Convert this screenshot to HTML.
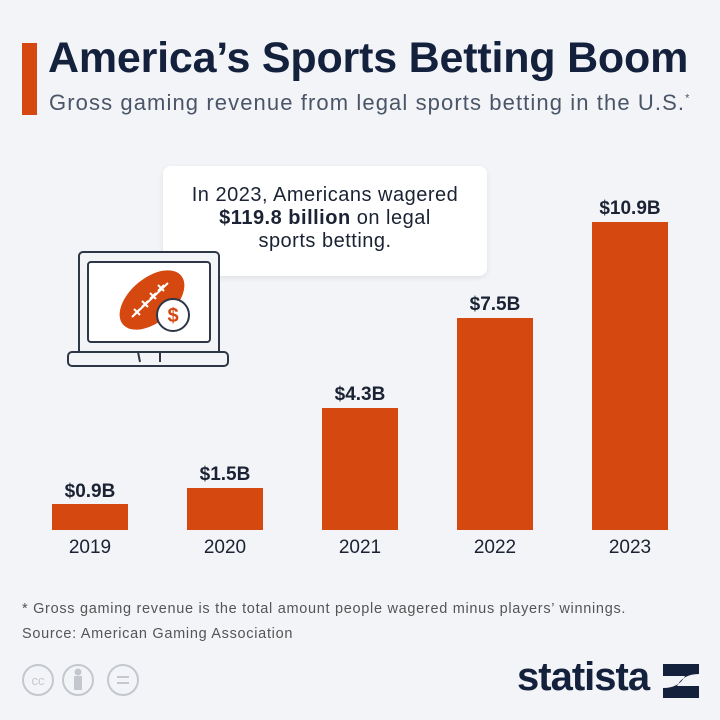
<!DOCTYPE html>
<html><head><style>
body{margin:0;width:720px;height:720px;background:#f2f4f7;font-family:"Liberation Sans",sans-serif;position:relative;overflow:hidden}
.a{position:absolute}
.bar{position:absolute;background:#d5480f;width:76px;bottom:190px}
.v{position:absolute;width:120px;text-align:center;font-weight:bold;font-size:19px;color:#1a2233}
.y{position:absolute;width:120px;text-align:center;font-size:19px;color:#1a2233;top:537px}
</style></head><body>
<div class="a" style="left:22px;top:43px;width:15px;height:72px;background:#d5480f"></div>
<div class="a" style="left:48px;top:34px;font-size:43px;font-weight:bold;color:#14213d;letter-spacing:-0.2px">America’s Sports Betting Boom</div>
<div class="a" style="left:49px;top:90px;font-size:22px;color:#4a5568;letter-spacing:1.1px">Gross gaming revenue from legal sports betting in the U.S.<sup style="font-size:11px">*</sup></div>
<div class="a" style="left:163px;top:166px;width:324px;height:110px;background:#fff;border-radius:8px;box-shadow:0 2px 6px rgba(0,0,0,0.08)"></div>
<div class="a" style="left:163px;top:184px;width:324px;text-align:center;font-size:20px;line-height:23px;color:#1a2233;letter-spacing:0.5px">In 2023, Americans wagered<br><b>$119.8 billion</b> on legal<br>sports betting.</div>
<svg class="a" style="left:60px;top:245px" width="180" height="130">
<rect x="19" y="7" width="140" height="105" rx="4" fill="#f2f4f7" stroke="#2d3748" stroke-width="2"/>
<rect x="28" y="17" width="122" height="80" rx="3" fill="#fff" stroke="#2d3748" stroke-width="2"/>
<rect x="8" y="107" width="160" height="14" rx="4" fill="#f2f4f7" stroke="#2d3748" stroke-width="2"/>
<line x1="78" y1="107" x2="80" y2="117" stroke="#2d3748" stroke-width="2"/><line x1="100" y1="107" x2="100" y2="117" stroke="#2d3748" stroke-width="2"/>
<ellipse cx="92" cy="55" rx="38" ry="22" transform="rotate(-40 92 55)" fill="#d5480f"/>
<path d="M72 72 L108 38" stroke="#fff" stroke-width="2"/>
<g stroke="#fff" stroke-width="2"><path d="M74 64l6 6M80 64l-6 6"/><path d="M82 56l6 6M88 56l-6 6"/><path d="M90 48l6 6M96 48l-6 6"/><path d="M98 40l6 6M104 40l-6 6"/></g>
<circle cx="113" cy="70" r="16" fill="#fff" stroke="#2d3748" stroke-width="2"/>
<text x="113" y="77" text-anchor="middle" font-size="20" font-weight="bold" fill="#d5480f" font-family="Liberation Sans">$</text>
</svg>
<div class="bar" style="left:52px;height:26px"></div>
<div class="bar" style="left:187px;height:42px"></div>
<div class="bar" style="left:322px;height:122px"></div>
<div class="bar" style="left:457px;height:212px"></div>
<div class="bar" style="left:592px;height:308px"></div>
<div class="v" style="left:30px;top:481px">$0.9B</div>
<div class="v" style="left:165px;top:464px">$1.5B</div>
<div class="v" style="left:300px;top:384px">$4.3B</div>
<div class="v" style="left:435px;top:294px">$7.5B</div>
<div class="v" style="left:570px;top:198px">$10.9B</div>
<div class="y" style="left:30px">2019</div>
<div class="y" style="left:165px">2020</div>
<div class="y" style="left:300px">2021</div>
<div class="y" style="left:435px">2022</div>
<div class="y" style="left:570px">2023</div>
<div class="a" style="left:22px;top:597px;font-size:14.5px;color:#555;line-height:25px;letter-spacing:0.7px">* Gross gaming revenue is the total amount people wagered minus players’ winnings.<br>Source: American Gaming Association</div>
<svg class="a" style="left:20px;top:662px" width="130" height="40" fill="none" stroke="#c4c8ce" stroke-width="2">
<circle cx="18" cy="18" r="15"/><circle cx="58" cy="18" r="15"/><circle cx="103" cy="18" r="15"/>
<text x="18" y="23" font-size="13" fill="#c4c8ce" stroke="none" text-anchor="middle" font-family="Liberation Sans">cc</text>
<circle cx="58" cy="10" r="2.5" fill="#c4c8ce"/><rect x="54" y="14" width="8" height="14" fill="#c4c8ce" stroke="none"/>
<line x1="97" y1="15" x2="109" y2="15"/><line x1="97" y1="21" x2="109" y2="21"/>
</svg>
<div class="a" style="left:517px;top:655px;font-size:40px;font-weight:bold;color:#14213d;letter-spacing:-1px">statista</div>
<svg class="a" style="left:663px;top:664px" width="36" height="34"><path d="M0 0H36V10Q20 10 14 22H36V34H0V24Q16 24 22 12H0Z" fill="#14213d"/></svg>
</body></html>
